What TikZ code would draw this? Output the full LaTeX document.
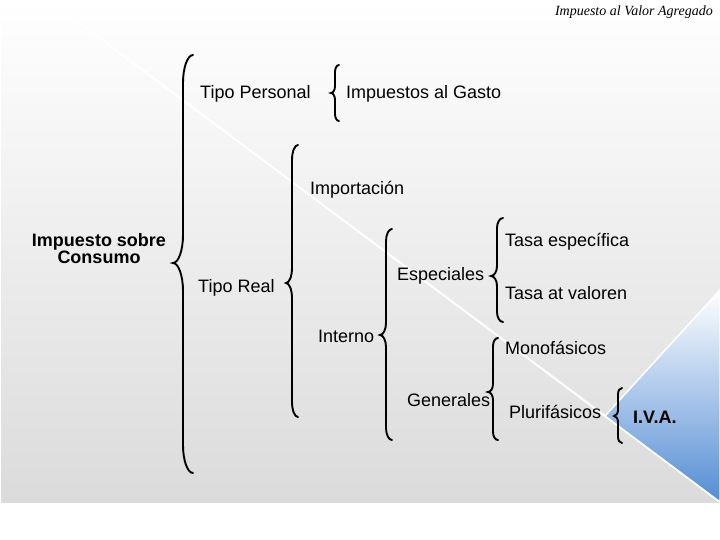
\documentclass[tikz,border=0pt]{standalone}
\usepackage{fontspec}
\setmainfont{Liberation Sans}
\newfontfamily\titlefont{Liberation Serif}
\definecolor{fondo}{RGB}{220,219,220}
\definecolor{azuliva}{RGB}{84,141,212}
\tikzset{
  rama/.style={anchor=base west,inner sep=0pt,font=\fontsize{18}{18}\selectfont},
  llave/.style={line width=1.9pt,line cap=round}
}
% left curly brace: x, top, cusp, bottom, width, curl
\newcommand{\llave}[6]{%
  \draw[llave] ({#1+#5},#2) .. controls ({#1+0.45*#5},#2) and (#1,{#2+0.45*#6}) .. (#1,{#2+#6})
    -- (#1,{#3-#6}) .. controls (#1,{#3-0.45*#6}) and ({#1-0.45*#5},#3) .. ({#1-#5},#3)
    .. controls ({#1-0.45*#5},#3) and (#1,{#3+0.45*#6}) .. (#1,{#3+#6})
    -- (#1,{#4-#6}) .. controls (#1,{#4-0.45*#6}) and ({#1+0.45*#5},#4) .. ({#1+#5},#4);}

\begin{document}
\begin{tikzpicture}[x=1pt,y=-1pt]
  \useasboundingbox (0,0) rectangle (720,540);
  % background
  \shade[top color=white,bottom color=fondo] (1,0) rectangle (720,502);
  \draw[white,line width=2pt] (49,0)--(720,502);
  \shade[top color=white,middle color=azuliva!55,bottom color=azuliva,draw=white,line width=1.5pt]
    (605,416)--(720,290)--(720,502)--cycle;
  \node[anchor=base east,inner sep=0pt,font=\titlefont\itshape\fontsize{14}{14}\selectfont] (titulo) at (713,16) {Impuesto al Valor Agregado};
  % braces
  \llave{183}{55}{263}{473}{10}{28}
  \llave{335}{65}{93}{121}{4}{7}
  \llave{292}{145}{283}{417}{6}{15}
  \llave{386}{229}{335}{440}{6}{12}
  \llave{497}{218}{276}{322}{6}{10}
  \llave{493}{338}{392}{440}{5}{8}
  \llave{618}{388}{416}{443}{4}{6}
  % texts
  \node[align=center,inner sep=0pt,font=\fontsize{18}{16}\selectfont\bfseries] (consumo) at (99,248.5) {Impuesto sobre\\Consumo};
  \node[rama] (personal) at (200,99) {Tipo Personal};
  \node[rama] (gasto) at (346,99) {Impuestos al Gasto};
  \node[rama] (real) at (198,292) {Tipo Real};
  \node[rama] (importacion) at (310,195) {Importación};
  \node[rama] (interno) at (318,342) {Interno};
  \node[rama] (especiales) at (397,280) {Especiales};
  \node[rama] (generales) at (407,406) {Generales};
  \node[rama] (especifica) at (505,247) {Tasa específica};
  \node[rama] (valoren) at (505,299) {Tasa at valoren};
  \node[rama] (mono) at (505,354) {Monofásicos};
  \node[rama] (pluri) at (509,418) {Plurifásicos};
  \node[rama,font=\fontsize{18}{18}\selectfont\bfseries] (iva) at (633,423) {I.V.A.};
\end{tikzpicture}
\end{document}
